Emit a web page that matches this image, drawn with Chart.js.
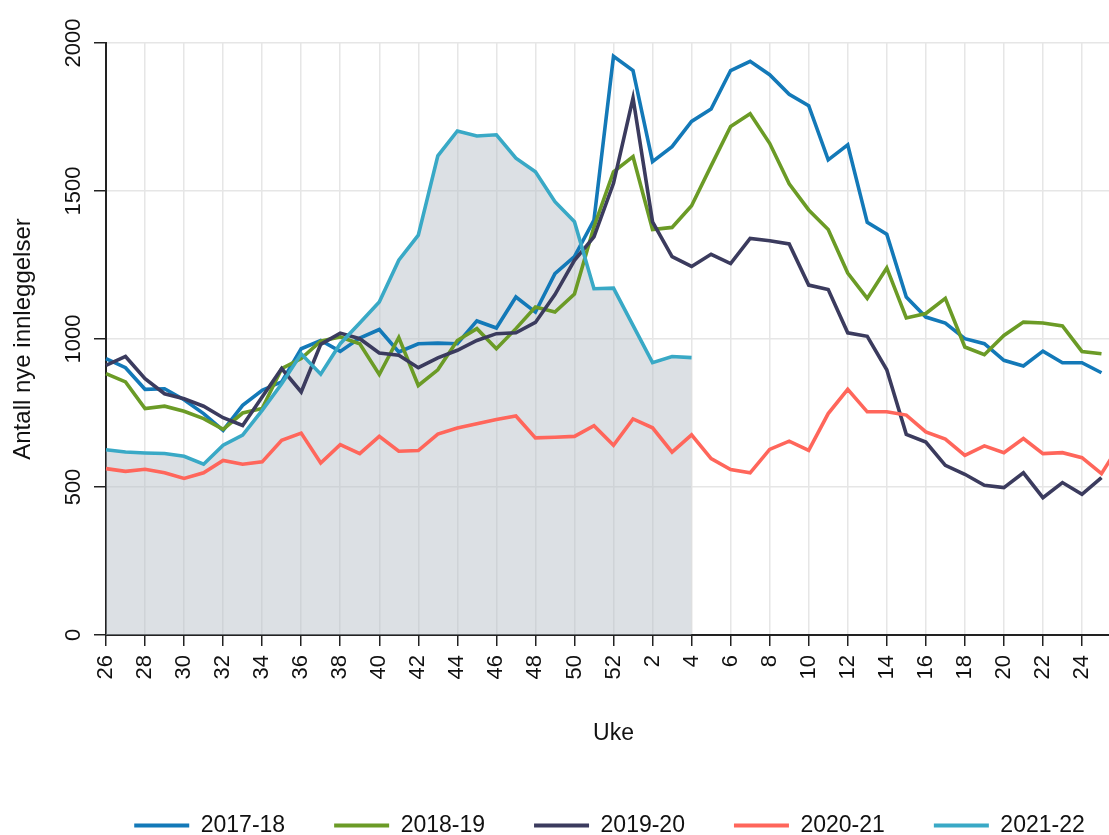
<!DOCTYPE html>
<html>
<head>
<meta charset="utf-8">
<script src="https://cdn.jsdelivr.net/npm/chart.js@4.4.1/dist/chart.umd.min.js"></script>
<style>
  html, body { margin: 0; padding: 0; background: #fff; }
  #wrap { width: 1109px; height: 835px; overflow: hidden; }
  canvas { display: block; }
</style>
</head>
<body>
<div id="wrap"><canvas id="chart" width="1219" height="847" style="width:1219px;height:847px"></canvas></div>
<script>
// ukenummer, sesong går fra uke 26 til uke 25 året etter
const weeks = [26, 27, 28, 29, 30, 31, 32, 33, 34, 35, 36, 37, 38, 39, 40, 41, 42, 43, 44, 45, 46, 47, 48, 49, 50, 51, 52,
  1, 2, 3, 4, 5, 6, 7, 8, 9, 10, 11, 12, 13, 14, 15, 16, 17, 18, 19, 20, 21, 22, 23, 24, 25, 26];

const yTicks = [0, 500, 1000, 1500, 2000];

const s2017 = [934, 903, 830, 832, 795, 748, 691, 776, 827, 855, 967, 995, 958, 1003, 1032, 956, 984, 986, 984, 1061, 1037, 1142, 1091, 1221, 1278, 1402, 1955,
  1907, 1599, 1650, 1735, 1777, 1907, 1938, 1893, 1827, 1788, 1605, 1656, 1394, 1354, 1142, 1074, 1054, 1001, 984, 928, 909, 959, 920, 920, 886];
const s2018 = [883, 855, 765, 773, 756, 731, 695, 750, 765, 900, 934, 993, 1007, 984, 880, 1005, 843, 896, 995, 1035, 967, 1035, 1108, 1091, 1152, 1379, 1565,
  1616, 1370, 1377, 1450, 1585, 1718, 1761, 1661, 1524, 1436, 1370, 1223, 1137, 1240, 1071, 1086, 1137, 973, 947, 1012, 1057, 1054, 1044, 958, 950];
const s2019 = [911, 941, 866, 815, 798, 773, 734, 708, 804, 900, 821, 982, 1020, 1001, 953, 945, 903, 936, 962, 995, 1018, 1021, 1056, 1150, 1266, 1345, 1526,
  1814, 1396, 1278, 1245, 1286, 1255, 1340, 1332, 1321, 1182, 1167, 1021, 1009, 896, 678, 652, 573, 543, 506, 498, 548, 464, 515, 475, 532];
const s2020 = [562, 553, 560, 548, 529, 548, 590, 577, 585, 658, 682, 581, 643, 613, 671, 621, 623, 679, 699, 714, 728, 740, 666, 668, 671, 707, 641,
  730, 700, 618, 676, 596, 559, 548, 627, 655, 624, 748, 830, 754, 754, 743, 686, 662, 607, 639, 616, 664, 613, 616, 599, 545, 650];
const s2021 = [626, 618, 615, 613, 604, 577, 641, 675, 759, 849, 950, 881, 984, 1054, 1125, 1266, 1351, 1619, 1703, 1686, 1690, 1611, 1565, 1464, 1396, 1170, 1172,
  1046, 920, 941, 937];

const seasons = ['2017-18', '2018-19', '2019-20', '2020-21', '2021-22'];
const colors = ['#1379b8', '#6b9b26', '#3b3b5e', '#ff665b', '#39a9c6'];
const series = [s2017, s2018, s2019, s2020, s2021];

const font = 'Liberation Sans, Arial, Helvetica, sans-serif';
const gridColor = '#e6e6e6';
const axisColor = '#222';

const datasets = seasons.map((name, i) => ({
  label: name,
  data: series[i],
  borderColor: colors[i],
  backgroundColor: i === 4 ? 'rgba(180, 190, 198, 0.47)' : colors[i],
  fill: i === 4 ? 'origin' : false,
  borderWidth: 3.6,
  pointRadius: 0,
  tension: 0,
  order: seasons.length - i
}));

new Chart(document.getElementById('chart'), {
  type: 'line',
  data: { labels: weeks, datasets },
  options: {
    responsive: false,
    animation: false,
    layout: { padding: { top: 43, left: 0, right: 0, bottom: 0 } },
    plugins: {
      filler: { drawTime: 'beforeDatasetsDraw' },
      tooltip: { enabled: false },
      legend: {
        position: 'bottom',
        labels: {
          font: { family: font, size: 23 },
          color: '#111',
          boxWidth: 55,
          boxHeight: 4,
          padding: 49,
          generateLabels: (chart) => {
            const items = Chart.defaults.plugins.legend.labels.generateLabels(chart);
            items.forEach(it => {
              const c = chart.data.datasets[it.datasetIndex].borderColor;
              it.fillStyle = c;
              it.strokeStyle = c;
              it.lineWidth = 0;
            });
            return items.sort((a, b) => a.datasetIndex - b.datasetIndex);
          }
        }
      }
    },
    scales: {
      x: {
        type: 'category',
        offset: false,
        afterFit: (scale) => { scale.height = 130; },
        border: { color: axisColor, width: 2 },
        grid: {
          color: (ctx) => ctx.index % 2 === 0 ? gridColor : 'rgba(0,0,0,0)',
          tickColor: (ctx) => ctx.index % 2 === 0 ? axisColor : 'rgba(0,0,0,0)',
          lineWidth: 1.5,
          tickWidth: 1.5,
          tickLength: 11
        },
        ticks: {
          autoSkip: false,
          minRotation: 90,
          maxRotation: 90,
          padding: 9,
          color: '#111',
          font: { family: font, size: 22 },
          callback: (val, i) => i % 2 === 0 ? String(weeks[i]) : ''
        },
        title: {
          display: true,
          text: 'Uke',
          color: '#111',
          font: { family: font, size: 23 },
          padding: { top: 4, bottom: 18 }
        }
      },
      y: {
        min: 0,
        max: 2000,
        afterFit: (scale) => { scale.width = 106; },
        afterBuildTicks: (scale) => { scale.ticks = yTicks.map(v => ({ value: v })); },
        border: { color: axisColor, width: 2 },
        grid: {
          color: gridColor,
          tickColor: axisColor,
          lineWidth: 1.5,
          tickWidth: 1.5,
          tickLength: 12
        },
        ticks: {
          minRotation: 90,
          maxRotation: 90,
          crossAlign: 'center',
          padding: -4,
          color: '#111',
          font: { family: font, size: 22 },
          callback: (v) => String(v)
        },
        title: {
          display: true,
          text: 'Antall nye innleggelser',
          color: '#111',
          font: { family: font, size: 24 },
          padding: { top: 9, bottom: 4 }
        }
      },
      // usynlig akse på høyre side, holder plottet på samme bredde som originalen
      y2: {
        position: 'right',
        display: true,
        afterFit: (scale) => { scale.width = 98; },
        grid: { display: false, drawTicks: false },
        border: { display: false },
        ticks: { display: false }
      }
    }
  }
});
</script>
</body>
</html>
